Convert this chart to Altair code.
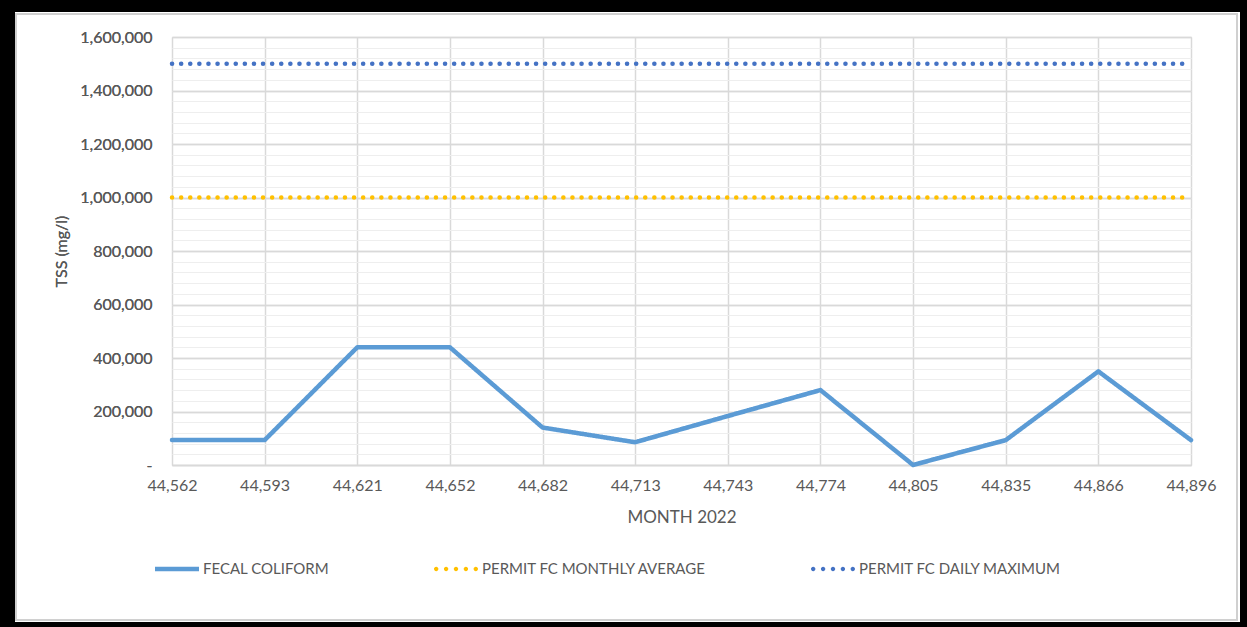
import altair as alt
import pandas as pd

months = ["44,562", "44,593", "44,621", "44,652", "44,682", "44,713",
          "44,743", "44,774", "44,805", "44,835", "44,866", "44,896"]
fecal = [93000, 93000, 440000, 440000, 140000, 85000,
         183000, 280000, 0, 93000, 350000, 93000]
monthly_avg = [1000000, 1000000, 1000000, 1000000, 1000000, 1000000,
               1000000, 1000000, 1000000, 1000000, 1000000, 1000000]
daily_max = [1500000, 1500000, 1500000, 1500000, 1500000, 1500000,
             1500000, 1500000, 1500000, 1500000, 1500000, 1500000]
series_names = ["FECAL COLIFORM", "PERMIT FC MONTHLY AVERAGE", "PERMIT FC DAILY MAXIMUM"]
series_colors = ["#5B9BD5", "#FFC000", "#4472C4"]
major_ticks = [0, 200000, 400000, 600000, 800000, 1000000, 1200000, 1400000, 1600000]
minor_ticks = list(range(0, 1600001, 40000))

rows = []
for name, vals in zip(series_names, [fecal, monthly_avg, daily_max]):
    for m, v in zip(months, vals):
        rows.append({"month": m, "value": v, "series": name})
df = pd.DataFrame(rows)

FONT = "Lato"
TXT = "#595959"
W, H = 1019, 428
PL, PT = 172, 37
TOTAL_W, TOTAL_H = 1247, 627

# legend symbol shapes (unit box -1..1): solid bar and five dots
SOLID = "M-1,-0.1L1,-0.1L1,0.1L-1,0.1Z"
def dots_path():
    parts = []
    for cx in [-0.9, -0.45, 0.0, 0.45, 0.9]:
        r = 0.1
        parts.append(f"M{cx - r},0a{r},{r} 0 1,0 {2 * r},0a{r},{r} 0 1,0 {-2 * r},0Z")
    return "".join(parts)
DOTS = dots_path()

x_enc = alt.X("month:N", sort=months,
              scale=alt.Scale(type="point", padding=0, domain=months),
              axis=alt.Axis(title="MONTH 2022", grid=True, gridColor="#d9d9d9", gridWidth=1.5,
                            ticks=False, domain=True, domainColor="#d9d9d9", domainWidth=1.5,
                            labelAngle=0, labelPadding=12, labelFontSize=16, labelColor=TXT,
                            labelFont=FONT, titleFont=FONT, titleFontSize=17, titleColor=TXT,
                            titleFontWeight="normal", titlePadding=16))

y_scale = alt.Scale(domain=[0, 1600000], nice=False, zero=True)
y_major = alt.Y("value:Q", scale=y_scale,
                axis=alt.Axis(orient="left", values=major_ticks, grid=True, gridColor="#d9d9d9",
                              gridWidth=1.5, ticks=False, domain=False, labelPadding=20,
                              labelFontSize=16, labelColor=TXT, labelFont=FONT,
                              labelExpr="datum.value == 0 ? '-\u00a0\u00a0' : format(datum.value, ',')",
                              title="TSS (mg/l)", titleFont=FONT, titleFontSize=16, titleColor=TXT,
                              titleFontWeight="normal", titlePadding=10))

legend = alt.Legend(title=None, orient="none", direction="horizontal",
                    legendX=-17, legendY=510, symbolSize=1936, symbolStrokeWidth=0,
                    symbolOpacity=1, labelOffset=4, columnPadding=104, labelFont=FONT,
                    labelFontSize=15, labelColor=TXT, labelLimit=400)

color_scale = alt.Scale(domain=series_names, range=series_colors)

# minor grid (separate right-side axis with no labels)
minor = alt.Chart(df).mark_rule(opacity=0).encode(
    y=alt.Y("value:Q", scale=y_scale,
            axis=alt.Axis(orient="right", values=minor_ticks, grid=True, gridColor="#eeeeee",
                          gridWidth=1, labels=False, ticks=False, domain=False, title=None)),
)

lines = alt.Chart(df).mark_line(strokeWidth=4.5, strokeCap="round", strokeJoin="round").encode(
    x=x_enc,
    y=y_major,
    color=alt.Color("series:N", sort=series_names, scale=color_scale, legend=None),
    strokeDash=alt.StrokeDash("series:N", sort=series_names,
                              scale=alt.Scale(domain=series_names,
                                              range=[[1, 0], [0.1, 9], [0.1, 9]]),
                              legend=None),
)

# legend-only layer: its points are pushed outside the plot and clipped away
legend_layer = alt.Chart(df).mark_point(filled=True, clip=True, yOffset=5000).encode(
    x=x_enc,
    y=y_major,
    color=alt.Color("series:N", sort=series_names, scale=color_scale, legend=legend),
    shape=alt.Shape("series:N", sort=series_names,
                    scale=alt.Scale(domain=series_names, range=[SOLID, DOTS, DOTS]),
                    legend=legend),
)

one = alt.InlineData(values=[{"k": 1}])

def band(x0, x1, y0, y1):
    return alt.Chart(one).mark_rect(color="black").encode(
        x=alt.value(x0 - PL), x2=alt.value(x1 - PL),
        y=alt.value(y0 - PT), y2=alt.value(y1 - PT))

frame_line = alt.Chart(one).mark_rect(fill=None, stroke="#d0d0d0", strokeWidth=2).encode(
    x=alt.value(16 - PL), x2=alt.value(1237 - PL),
    y=alt.value(14 - PT), y2=alt.value(620 - PT))

chart = alt.layer(
    minor, lines, legend_layer,
    band(0, 15, 0, TOTAL_H), band(0, TOTAL_W, 0, 12),
    band(1240, TOTAL_W, 0, TOTAL_H), band(0, TOTAL_W, 622, TOTAL_H),
    frame_line,
).resolve_axis(
    y="independent"
).resolve_legend(
    color="independent", shape="independent", strokeDash="independent"
).properties(
    width=W, height=H,
    autosize=alt.AutoSizeParams(type="none"),
    padding={"left": PL, "top": PT, "right": TOTAL_W - PL - W, "bottom": TOTAL_H - PT - H},
    background="white",
).configure_view(
    stroke="#9a9a9a", strokeWidth=1, strokeDash=[1, 1]
)

chart.save("out.html", embed_options={"renderer": "svg", "actions": False})
